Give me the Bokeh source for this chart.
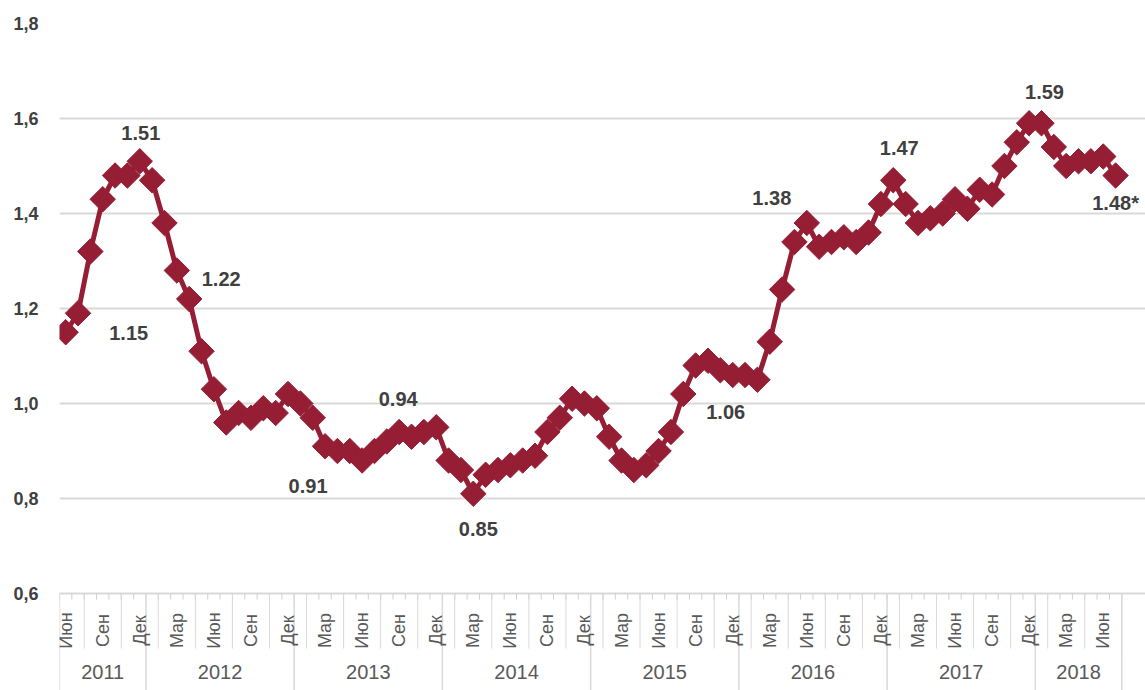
import numpy as np
from bokeh.plotting import figure
from bokeh.models import Range1d, FixedTicker, CustomJSTickFormatter
from bokeh.core.properties import value
from bokeh.embed import file_html
from bokeh.resources import INLINE

# ---------------- data ----------------
values = [
    # 2011 Jun..Dec
    1.15, 1.19, 1.32, 1.43, 1.48, 1.48, 1.51,
    # 2012
    1.47, 1.38, 1.28, 1.22, 1.11, 1.03, 0.96, 0.98, 0.97, 0.99, 0.98, 1.02,
    # 2013
    1.00, 0.97, 0.91, 0.90, 0.90, 0.88, 0.90, 0.92, 0.94, 0.93, 0.94, 0.95,
    # 2014
    0.88, 0.86, 0.81, 0.85, 0.86, 0.87, 0.88, 0.89, 0.94, 0.97, 1.01, 1.00,
    # 2015
    0.99, 0.93, 0.88, 0.86, 0.87, 0.90, 0.94, 1.02, 1.08, 1.09, 1.07, 1.06,
    # 2016
    1.06, 1.05, 1.13, 1.24, 1.34, 1.38, 1.33, 1.34, 1.35, 1.34, 1.36, 1.42,
    # 2017
    1.47, 1.42, 1.38, 1.39, 1.40, 1.43, 1.41, 1.45, 1.44, 1.50, 1.55, 1.59,
    # 2018 Jan..Jul
    1.59, 1.54, 1.50, 1.51, 1.51, 1.52, 1.48,
]
start_year = 2011
start_month = 6
month_names = ["Янв", "Фев", "Мар", "Апр", "Май", "Июн",
               "Июл", "Авг", "Сен", "Окт", "Ноя", "Дек"]
years = [2011, 2012, 2013, 2014, 2015, 2016, 2017, 2018]
y_ticks = [0.6, 0.8, 1.0, 1.2, 1.4, 1.6, 1.8]

label_idx = [0, 6, 10, 21, 27, 33, 54, 60, 67, 79, 85]
label_text = ["1.15", "1.51", "1.22", "0.91", "0.94", "0.85",
              "1.06", "1.38", "1.47", "1.59", "1.48*"]
label_dx = [63, 1, 32, -17, -1, 5, -7, -35, 6, 3, 0]
label_dy = [1, -28, -20, 40, -33, 35, 37, -25, -32, -31, 27]

# ---------------- layout constants ----------------
W, H = 1145, 690
LEFT, TOP = 59, 23
PX_MONTH = 12.352
PX_UNIT = 475.0
RED = "#961E34"
GRID = "#d9d9d9"
TXT = "#404040"
AXTXT = "#595959"
FONT = "Liberation Sans"

n = len(values)
xs = np.arange(n)
x_end = -0.5 + (W - LEFT) / PX_MONTH
y_bot = 1.8 - (H - TOP) / PX_UNIT


def ypx(d):
    """data y for a point d pixels below the 0.6 axis line"""
    return 0.6 - d / PX_UNIT


p = figure(width=W, height=H, x_range=Range1d(-0.5, x_end),
           y_range=Range1d(y_bot, 1.8), x_axis_type=None,
           output_backend="svg", toolbar_location=None,
           min_border_left=LEFT, min_border_right=0,
           min_border_top=TOP, min_border_bottom=0)
p.outline_line_color = None
p.background_fill_color = "white"

# y axis
p.yaxis.ticker = FixedTicker(ticks=y_ticks)
p.yaxis.formatter = CustomJSTickFormatter(code="return tick.toFixed(1).replace('.', ',')")
p.yaxis.axis_line_color = None
p.yaxis.major_tick_line_color = None
p.yaxis.minor_tick_line_color = None
p.yaxis.major_tick_out = 0
p.yaxis.major_label_standoff = 21
p.yaxis.major_label_text_font = FONT
p.yaxis.major_label_text_font_style = "bold"
p.yaxis.major_label_text_font_size = "18px"
p.yaxis.major_label_text_color = TXT

p.ygrid.ticker = FixedTicker(ticks=y_ticks)
p.ygrid.bounds = (-0.5, n - 0.5)
p.ygrid.grid_line_color = GRID
p.ygrid.grid_line_width = 2

# ---------------- category axis (months / years) ----------------
months = [(start_month - 1 + i) % 12 for i in range(n)]
yrs = [start_year + (start_month - 1 + i) // 12 for i in range(n)]

bounds = np.arange(n + 1) - 0.5
p.segment(x0=bounds, y0=0.6, x1=bounds, y1=ypx(6), line_color="#cfcfcf", line_width=1)

mid_b = np.array([k + 0.5 for k in range(n) if k % 3 == 1])
p.segment(x0=mid_b, y0=0.6, x1=mid_b, y1=ypx(55), line_color=GRID, line_width=1)

year_b = [-0.5] + [i - 0.5 for i in range(1, n) if yrs[i] != yrs[i - 1]] + [n - 0.5]
year_b = np.array(year_b)
p.segment(x0=year_b, y0=0.6, x1=year_b, y1=y_bot, line_color=GRID, line_width=1.5)

lab_i = [i for i in range(n) if i % 3 == 0]
p.text(x=lab_i, y=[ypx(37)] * len(lab_i), text=[month_names[months[i]] for i in lab_i],
       angle=np.pi / 2, text_align="center", text_baseline="middle",
       text_font=value(FONT), text_font_size="18px", text_color=AXTXT)

yc = [float(np.mean([i for i in range(n) if yrs[i] == yy])) for yy in years]
p.text(x=yc, y=[ypx(78)] * len(years), text=[str(yy) for yy in years],
       text_align="center", text_baseline="middle",
       text_font=value(FONT), text_font_size="20px", text_color=AXTXT)

# ---------------- series ----------------
p.line(xs, values, line_color=RED, line_width=5)
p.scatter(xs, values, marker="square", angle=np.pi / 4, size=18,
          fill_color=RED, line_color=RED)

lv = [values[i] for i in label_idx]
p.text(x=label_idx, y=lv, text=label_text, x_offset=label_dx, y_offset=label_dy,
       text_align="center", text_baseline="middle",
       text_font=value(FONT), text_font_style="bold", text_font_size="20px",
       text_color=TXT)

open("out.html", "w").write(file_html(p, INLINE))
